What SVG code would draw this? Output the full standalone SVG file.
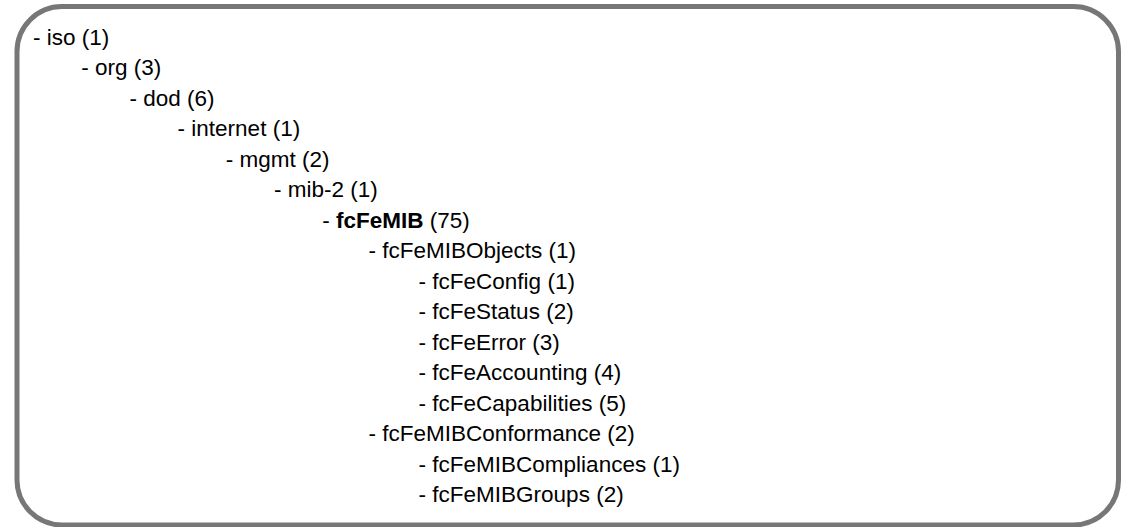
<svg xmlns="http://www.w3.org/2000/svg" width="1121" height="527" viewBox="0 0 1121 527">
  <style>
    .frame { fill: #ffffff; stroke: #777777; stroke-width: 5; }
    .item { font-family: "Liberation Sans", Arial, sans-serif; font-size: 22.5px; fill: #000000; }
    .strong { font-weight: bold; }
  </style>
  <rect width="1121" height="527" fill="#ffffff"/>
  <!-- outer rounded frame -->
  <rect class="frame" x="17" y="6.5" width="1101.5" height="518.5" rx="45" ry="45"/>

  <!-- OID tree, one entry per line, indented by depth -->
  <g id="tree">
    <g id="n-iso"><text class="item" x="33" y="44.5">- iso (1)</text></g>
    <g id="n-org"><text class="item" x="81.2" y="75">- org (3)</text></g>
    <g id="n-dod"><text class="item" x="129.4" y="105.5">- dod (6)</text></g>
    <g id="n-internet"><text class="item" x="177.6" y="136">- internet (1)</text></g>
    <g id="n-mgmt"><text class="item" x="225.8" y="166.5">- mgmt (2)</text></g>
    <g id="n-mib2"><text class="item" x="274" y="197">- mib-2 (1)</text></g>
    <g id="n-fcFeMIB"><text class="item" x="322.2" y="227.5">- <tspan class="strong">fcFeMIB</tspan> (75)</text></g>
    <g id="n-fcFeMIBObjects"><text class="item" x="368.5" y="258">- fcFeMIBObjects (1)</text></g>
    <g id="n-fcFeConfig"><text class="item" x="418.6" y="288.5">- fcFeConfig (1)</text></g>
    <g id="n-fcFeStatus"><text class="item" x="418.6" y="319">- fcFeStatus (2)</text></g>
    <g id="n-fcFeError"><text class="item" x="418.6" y="349.5">- fcFeError (3)</text></g>
    <g id="n-fcFeAccounting"><text class="item" x="418.6" y="380">- fcFeAccounting (4)</text></g>
    <g id="n-fcFeCapabilities"><text class="item" x="418.6" y="410.5">- fcFeCapabilities (5)</text></g>
    <g id="n-fcFeMIBConformance"><text class="item" x="368.5" y="441">- fcFeMIBConformance (2)</text></g>
    <g id="n-fcFeMIBCompliances"><text class="item" x="418.6" y="471.5">- fcFeMIBCompliances (1)</text></g>
    <g id="n-fcFeMIBGroups"><text class="item" x="418.6" y="502">- fcFeMIBGroups (2)</text></g>
  </g>
</svg>
